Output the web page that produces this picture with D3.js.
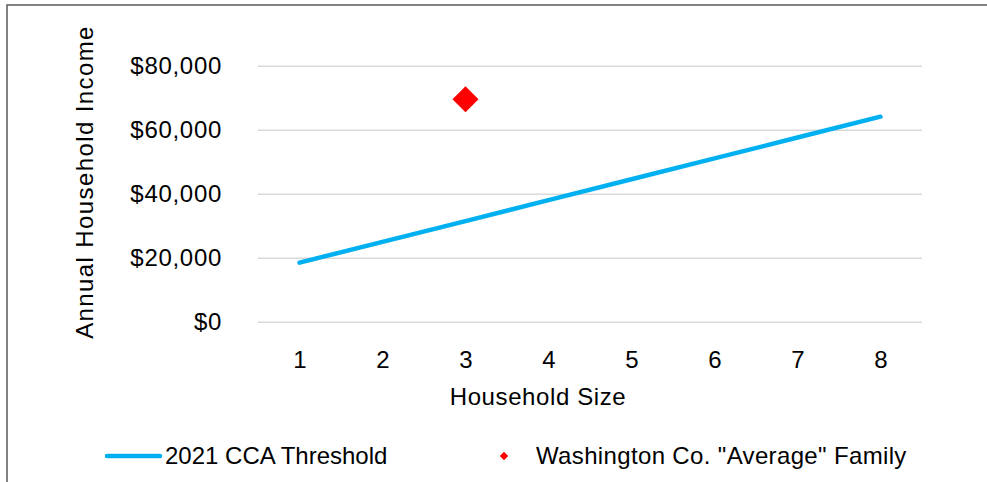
<!DOCTYPE html>
<html>
<head>
<meta charset="utf-8">
<script src="https://cdn.jsdelivr.net/npm/d3@7"></script>
<style>
  html, body { margin: 0; padding: 0; background: #fff; }
  svg { display: block; font-family: "Liberation Sans", Arial, sans-serif; }
</style>
</head>
<body>
<svg id="chart" width="987" height="482"></svg>
<script>
// Household sizes on the category axis
const householdSizes = [1, 2, 3, 4, 5, 6, 7, 8];
// 2021 CCA income threshold by household size (USD)
const ccaThreshold = [18450, 24950, 31450, 37990, 44510, 51030, 57550, 64070];
// Washington Co. "average" family: size and income
const avgFamilySize = [3];
const avgFamilyIncome = [69500];
// Income axis ticks
const yTicks = [0, 20000, 40000, 60000, 80000];

const seriesNames = ["2021 CCA Threshold", "Washington Co. \"Average\" Family"];

const svg = d3.select("#chart");
const W = 987, H = 482;

// outer frame
svg.append("rect")
  .attr("x", 7).attr("y", 5)
  .attr("width", W + 10).attr("height", H + 10)
  .attr("fill", "#fff")
  .attr("stroke", "#595959")
  .attr("stroke-width", 1.5);

const plot = { left: 258, right: 922, top: 65.7, bottom: 321.7 };

const x = d3.scalePoint()
  .domain(householdSizes)
  .range([plot.left, plot.right])
  .padding(0.5);

const y = d3.scaleLinear()
  .domain([0, 80000])
  .range([plot.bottom, plot.top]);

// horizontal gridlines
const yAxis = d3.axisLeft(y)
  .tickValues(yTicks)
  .tickSize(-(plot.right - plot.left))
  .tickPadding(36)
  .tickFormat(d => "$" + d3.format(",")(d));

const gy = svg.append("g")
  .attr("transform", `translate(${plot.left},0)`)
  .call(yAxis);
gy.select(".domain").remove();
gy.selectAll(".tick line").attr("stroke", "#d9d9d9").attr("stroke-width", 1.5);
gy.selectAll(".tick text")
  .attr("fill", "#000")
  .style("font-size", "24px")
  .style("font-family", "\"Liberation Sans\", Arial, sans-serif")
  .attr("letter-spacing", "0.7px");

// category axis labels
const xAxis = d3.axisBottom(x).tickSize(0).tickPadding(29);
const gx = svg.append("g")
  .attr("transform", `translate(0,${plot.bottom})`)
  .call(xAxis);
gx.select(".domain").remove();
gx.selectAll(".tick text")
  .attr("fill", "#000")
  .style("font-size", "24px")
  .style("font-family", "\"Liberation Sans\", Arial, sans-serif");

// axis titles
svg.append("text")
  .attr("x", 538).attr("y", 405)
  .attr("text-anchor", "middle")
  .attr("font-size", 24)
  .attr("letter-spacing", "0.6px")
  .text("Household Size");

svg.append("text")
  .attr("transform", "translate(93,182) rotate(-90)")
  .attr("text-anchor", "middle")
  .attr("font-size", 24)
  .attr("letter-spacing", "1.4px")
  .text("Annual Household Income");

// threshold line
const line = d3.line()
  .x((d, i) => x(householdSizes[i]))
  .y(d => y(d));

svg.append("path")
  .datum(ccaThreshold)
  .attr("d", line)
  .attr("fill", "none")
  .attr("stroke", "#00b0f0")
  .attr("stroke-width", 4.5)
  .attr("stroke-linecap", "round")
  .attr("stroke-linejoin", "round");

// average family marker
const diamond = d3.symbol().type(d3.symbolSquare).size(340);
svg.selectAll(".avg")
  .data(avgFamilySize.map((s, i) => ({ s, v: avgFamilyIncome[i] })))
  .join("path")
  .attr("class", "avg")
  .attr("d", diamond)
  .attr("transform", d => `translate(${x(d.s)},${y(d.v)}) rotate(45)`)
  .attr("fill", "#ff0000");

// legend
const ly = 456;
const leg = svg.append("g");
leg.append("line")
  .attr("x1", 107).attr("x2", 160)
  .attr("y1", ly).attr("y2", ly)
  .attr("stroke", "#00b0f0")
  .attr("stroke-width", 4.5)
  .attr("stroke-linecap", "round");
leg.append("text")
  .attr("x", 165).attr("y", ly)
  .attr("dy", "0.35em")
  .attr("font-size", 24)
  .text(seriesNames[0]);
leg.append("path")
  .attr("d", d3.symbol().type(d3.symbolSquare).size(36))
  .attr("transform", `translate(504,${ly}) rotate(45)`)
  .attr("fill", "#ff0000");
leg.append("text")
  .attr("x", 536).attr("y", ly)
  .attr("dy", "0.35em")
  .attr("font-size", 24)
  .attr("letter-spacing", "0.35px")
  .text(seriesNames[1]);
</script>
</body>
</html>
